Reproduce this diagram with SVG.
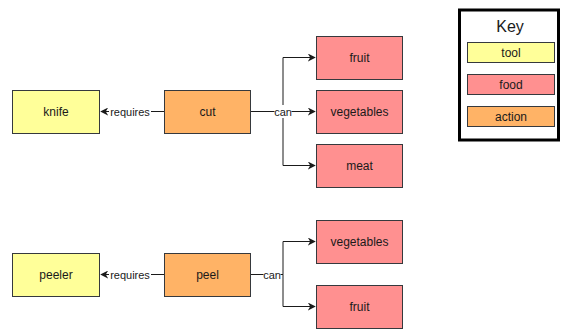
<svg xmlns="http://www.w3.org/2000/svg" width="561" height="329" viewBox="0 0 561 329">
<defs>
<style>
.n{stroke:#36393d;stroke-width:1}
.tool{fill:#ffff99}
.food{fill:#ff9090}
.act{fill:#ffb366}
text{font-family:"Liberation Sans",Arial,sans-serif;font-size:12px;fill:#1a1a1a;text-anchor:middle;dominant-baseline:central}
.lbl{font-size:11px}
.e{fill:none;stroke:#1a1a1a;stroke-width:1}
</style>
<marker id="ar" viewBox="0 0 10 10" refX="9" refY="5" markerWidth="8" markerHeight="8" markerUnits="userSpaceOnUse" orient="auto">
<path d="M0,0 L10,5 L0,10 L3,5 Z" fill="#1a1a1a"/>
</marker>
</defs>
<rect width="561" height="329" fill="#ffffff"/>
<g id="connectors">
<path class="e" d="M164,111.5 H101" marker-end="url(#ar)"/>
<path class="e" d="M251,111.5 H315" marker-end="url(#ar)"/>
<path class="e" d="M283,111.5 V57.5 H315" marker-end="url(#ar)"/>
<path class="e" d="M283,111.5 V165.5 H315" marker-end="url(#ar)"/>
<path class="e" d="M164,274.5 H101" marker-end="url(#ar)"/>
<path class="e" d="M251,274.5 H283 V241.5 H315" marker-end="url(#ar)"/>
<path class="e" d="M283,274.5 V306.5 H315" marker-end="url(#ar)"/>
<rect x="109" y="105" width="42" height="13" fill="#ffffff"/>
<text class="lbl" x="130" y="112">requires</text>
<rect x="274.5" y="105" width="17" height="13" fill="#ffffff"/>
<text class="lbl" x="283" y="112">can</text>
<rect x="109" y="268" width="42" height="13" fill="#ffffff"/>
<text class="lbl" x="130" y="275">requires</text>
<rect x="263.5" y="268" width="17" height="13" fill="#ffffff"/>
<text class="lbl" x="272" y="275">can</text>
</g>
<g id="knife"><rect class="n tool" x="12.5" y="90.5" width="87" height="43"/><text x="56" y="112">knife</text></g>
<g id="cut"><rect class="n act" x="164.5" y="90.5" width="86" height="43"/><text x="207.5" y="112">cut</text></g>
<g id="fruit1"><rect class="n food" x="316.5" y="36.5" width="86" height="43"/><text x="359.5" y="58">fruit</text></g>
<g id="vegetables1"><rect class="n food" x="316.5" y="90.5" width="86" height="43"/><text x="359.5" y="112">vegetables</text></g>
<g id="meat"><rect class="n food" x="316.5" y="144.5" width="86" height="43"/><text x="359.5" y="166">meat</text></g>
<g id="peeler"><rect class="n tool" x="12.5" y="253.5" width="87" height="43"/><text x="56" y="275">peeler</text></g>
<g id="peel"><rect class="n act" x="164.5" y="253.5" width="86" height="43"/><text x="207.5" y="275">peel</text></g>
<g id="vegetables2"><rect class="n food" x="316.5" y="220.5" width="86" height="43"/><text x="359.5" y="242">vegetables</text></g>
<g id="fruit2"><rect class="n food" x="316.5" y="285.5" width="86" height="43"/><text x="359.5" y="307">fruit</text></g>
<g id="key">
<rect x="459.5" y="10" width="99" height="130" fill="#ffffff" stroke="#000000" stroke-width="3"/>
<text x="510" y="26" style="font-size:16px">Key</text>
<rect class="n tool" x="467.5" y="42.5" width="87" height="20"/><text x="511" y="53">tool</text>
<rect class="n food" x="467.5" y="74.5" width="87" height="20"/><text x="511" y="85">food</text>
<rect class="n act" x="467.5" y="106.5" width="87" height="20"/><text x="511" y="117">action</text>
</g>
</svg>
